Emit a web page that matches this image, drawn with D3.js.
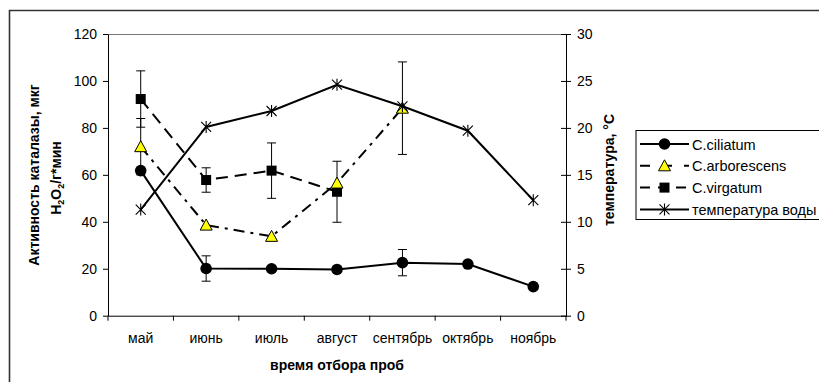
<!DOCTYPE html>
<html>
<head>
<meta charset="utf-8">
<script src="https://cdn.jsdelivr.net/npm/d3@7"></script>
<style>
  html, body { margin: 0; padding: 0; background: #fff; }
  svg { display: block; font-family: "Liberation Sans", Arial, sans-serif; }
</style>
</head>
<body>
<svg id="chart" width="819" height="382"></svg>
<script>
// Sampling months
const months = ["май", "июнь", "июль", "август", "сентябрь", "октябрь", "ноябрь"];

// Catalase activity, мкг H2O2/г*мин
const ciliatum      = [61.8, 20.1, 20.0, 19.7, 22.6, 22.0, 12.4];
const ciliatumErr   = [null, 5.4, null, null, 5.6, null, null];
const arborescens   = [72.0, 38.6, 33.8, 56.5, 88.4, null, null];
const arborescensErr= [12.0, null, null, null, 19.7, null, null];
const virgatum      = [92.3, 57.8, 61.8, 52.8, null, null, null];
const virgatumErr   = [12.0, 5.2, 11.8, 13.0, null, null, null];

// Water temperature, °C
const waterTemp = [11.3, 20.1, 21.8, 24.6, 22.3, 19.7, 12.3];

const leftTicks  = [0, 20, 40, 60, 80, 100, 120];
const rightTicks = [0, 5, 10, 15, 20, 25, 30];

const svg = d3.select("#chart");
const plot = { left: 108, right: 566, top: 34, bottom: 315.7 };

const x = d3.scaleBand().domain(months).range([plot.left, plot.right]);
const yL = d3.scaleLinear().domain([0, 120]).range([plot.bottom, plot.top]);
const yR = d3.scaleLinear().domain([0, 30]).range([plot.bottom, plot.top]);
const cx = m => x(m) + x.bandwidth() / 2;

// outer frame (left and top edges visible)
svg.append("path")
  .attr("d", "M9.5,382 V10.5 H819")
  .attr("fill", "none").attr("stroke", "#333").attr("stroke-width", 1.6);

// plot area top edge
svg.append("line")
  .attr("x1", plot.left).attr("x2", plot.right)
  .attr("y1", plot.top + 0.5).attr("y2", plot.top + 0.5)
  .attr("stroke", "#777").attr("stroke-width", 1);

// left axis
const gL = svg.append("g").attr("transform", `translate(${plot.left},0)`)
  .call(d3.axisLeft(yL).tickValues(leftTicks).tickSize(5).tickSizeOuter(0).tickPadding(6));
gL.selectAll("text").attr("font-size", 14).attr("font-family", "Liberation Sans").attr("fill", "#000");

// right axis with crossing ticks
const gR = svg.append("g").attr("transform", `translate(${plot.right},0)`)
  .call(d3.axisRight(yR).tickValues(rightTicks).tickSize(5).tickSizeOuter(0).tickPadding(6));
gR.selectAll(".tick line").attr("x1", -5);
gR.selectAll("text").attr("font-size", 14).attr("font-family", "Liberation Sans").attr("fill", "#000");

// bottom axis: labels centred, ticks at category boundaries
const gB = svg.append("g").attr("transform", `translate(0,${plot.bottom})`)
  .call(d3.axisBottom(x).tickSize(0).tickSizeOuter(0).tickPadding(17));
gB.selectAll("text").attr("font-size", 14).attr("font-family", "Liberation Sans").attr("fill", "#000");
gB.selectAll(".tick line").remove();
gB.selectAll("line.sep").data(months.slice(1).concat(["_end"]))
  .enter().append("line").attr("class", "sep")
  .attr("x1", d => d === "_end" ? plot.right : x(d))
  .attr("x2", d => d === "_end" ? plot.right : x(d))
  .attr("y1", 0).attr("y2", 5).attr("stroke", "#000");
gB.append("line").attr("x1", plot.left).attr("x2", plot.left).attr("y1", 0).attr("y2", 5).attr("stroke", "#000");
[gL, gR, gB].forEach(g => g.selectAll(".domain, line").attr("stroke", "#000"));

// axis titles
const titleFont = { "font-size": 14, "font-weight": "bold", "font-family": "Liberation Sans" };
function applyFont(sel, f) { Object.entries(f).forEach(([k, v]) => sel.attr(k, v)); return sel; }

const lt = svg.append("text").attr("transform", `translate(39,175) rotate(-90)`).attr("text-anchor", "middle");
applyFont(lt, titleFont).text("Активность каталазы, мкг");
const lt2 = svg.append("text").attr("transform", `translate(61,178) rotate(-90)`).attr("text-anchor", "middle");
applyFont(lt2, titleFont);
lt2.append("tspan").text("H");
lt2.append("tspan").attr("font-size", 9).attr("dy", 3).text("2");
lt2.append("tspan").attr("dy", -3).text("O");
lt2.append("tspan").attr("font-size", 9).attr("dy", 3).text("2");
lt2.append("tspan").attr("dy", -3).text("/г*мин");

const rt = svg.append("text").attr("transform", `translate(614,170) rotate(-90)`).attr("text-anchor", "middle");
applyFont(rt, titleFont).text("температура, °С");

const bt = svg.append("text").attr("x", (plot.left + plot.right) / 2).attr("y", 370).attr("text-anchor", "middle");
applyFont(bt, titleFont).text("время отбора проб");

// marker shapes
function drawMarker(g, type, px, py) {
  if (type === "circle") {
    g.append("circle").attr("cx", px).attr("cy", py).attr("r", 5.8).attr("fill", "#000");
  } else if (type === "triangle") {
    g.append("path").attr("d", `M${px},${py - 6} L${px + 6},${py + 5} L${px - 6},${py + 5} Z`)
      .attr("fill", "#ffff00").attr("stroke", "#000").attr("stroke-width", 1);
  } else if (type === "square") {
    g.append("rect").attr("x", px - 5).attr("y", py - 5).attr("width", 10).attr("height", 10).attr("fill", "#000");
  } else if (type === "star") {
    const s = 5;
    g.append("path")
      .attr("d", `M${px - s},${py - s} L${px + s},${py + s} M${px - s},${py + s} L${px + s},${py - s} M${px},${py - s - 1} L${px},${py + s + 1}`)
      .attr("stroke", "#000").attr("stroke-width", 1.1).attr("fill", "none");
  }
}

const series = [
  { name: "C.ciliatum", values: ciliatum, err: ciliatumErr, y: yL, marker: "circle", dash: null, width: 2 },
  { name: "C.virgatum", values: virgatum, err: virgatumErr, y: yL, marker: "square", dash: "12,7", width: 2 },
  { name: "C.arborescens", values: arborescens, err: arborescensErr, y: yL, marker: "triangle", dash: "11,6,3,6", width: 2 },
  { name: "температура воды", values: waterTemp, err: null, y: yR, marker: "star", dash: null, width: 2 }
];

// error bars
series.forEach(s => {
  if (!s.err) return;
  const g = svg.append("g");
  months.forEach((m, i) => {
    const v = s.values[i], e = s.err[i];
    if (v == null || e == null) return;
    const px = cx(m);
    g.append("line").attr("x1", px).attr("x2", px).attr("y1", s.y(v + e)).attr("y2", s.y(v - e)).attr("stroke", "#000");
    [v + e, v - e].forEach(c => g.append("line").attr("x1", px - 4.5).attr("x2", px + 4.5)
      .attr("y1", s.y(c)).attr("y2", s.y(c)).attr("stroke", "#000"));
  });
});

// lines and markers
series.forEach(s => {
  const pts = months.map((m, i) => ({ m, v: s.values[i] })).filter(d => d.v != null);
  const line = d3.line().x(d => cx(d.m)).y(d => s.y(d.v));
  svg.append("path").datum(pts).attr("d", line).attr("fill", "none")
    .attr("stroke", "#000").attr("stroke-width", s.width)
    .attr("stroke-dasharray", s.dash);
  const g = svg.append("g");
  pts.forEach(d => drawMarker(g, s.marker, cx(d.m), s.y(d.v)));
});

// legend
const legendOrder = ["C.ciliatum", "C.arborescens", "C.virgatum", "температура воды"];
const lg = svg.append("g");
lg.append("rect").attr("x", 636).attr("y", 130.5).attr("width", 200).attr("height", 89)
  .attr("fill", "#fff").attr("stroke", "#000").attr("stroke-width", 1);
const legendDash = { "C.ciliatum": null, "C.arborescens": "10,12", "C.virgatum": "10,8", "температура воды": null };
legendOrder.forEach((name, i) => {
  const s = series.find(d => d.name === name);
  const ly = 144 + i * 21.8;
  lg.append("line").attr("x1", 640).attr("x2", 689).attr("y1", ly).attr("y2", ly)
    .attr("stroke", "#000").attr("stroke-width", 2).attr("stroke-dasharray", legendDash[name]);
  drawMarker(lg, s.marker, 664.5, ly);
  lg.append("text").attr("x", 692).attr("y", ly + 5.5).attr("font-size", 14.5)
    .attr("font-family", "Liberation Sans").text(name);
});
</script>
</body>
</html>
